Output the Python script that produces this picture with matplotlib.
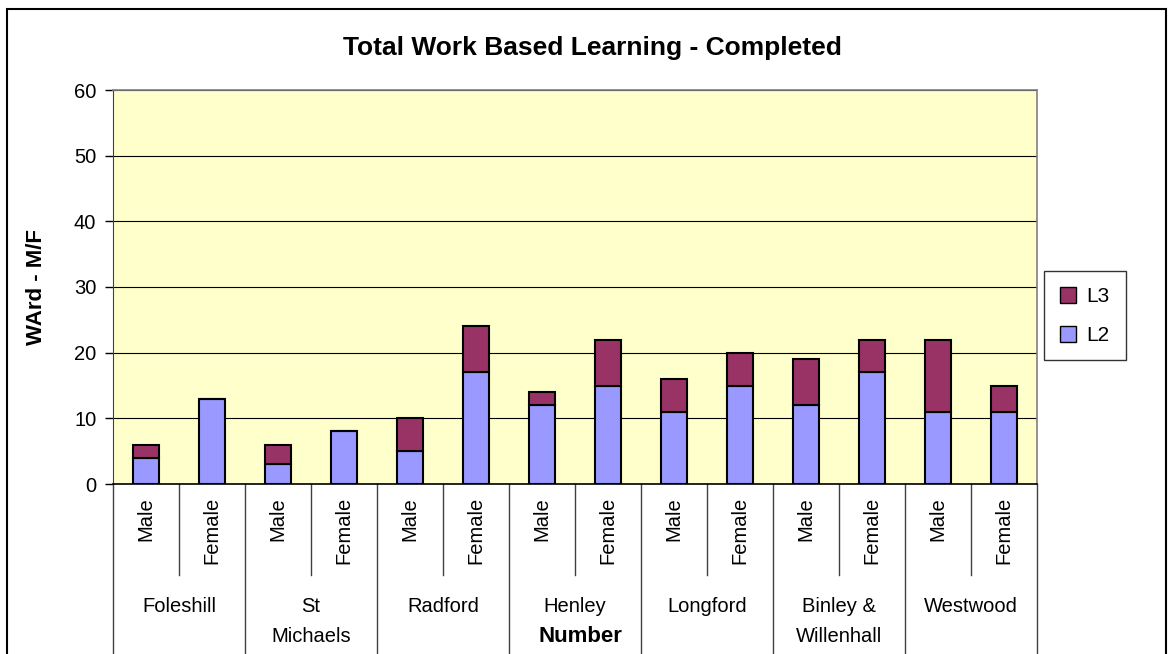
import matplotlib
matplotlib.use("Agg")
import matplotlib.pyplot as plt
from matplotlib.patches import Rectangle, Patch

plt.rcParams['font.family'] = ['Liberation Sans', 'DejaVu Sans']

wards = ["Foleshill", "St\nMichaels", "Radford", "Henley", "Longford", "Binley &\nWillenhall", "Westwood"]
genders = ["Male", "Female"]
l2 = [4, 13, 3, 8, 5, 17, 12, 15, 11, 15, 12, 17, 11, 11]
l3 = [2, 0, 3, 0, 5, 7, 2, 7, 5, 5, 7, 5, 11, 4]
yticks = [0, 10, 20, 30, 40, 50, 60]

W, H = 1173, 654
fig = plt.figure(figsize=(W / 100, H / 100), dpi=100)
fig.patch.set_facecolor('white')

left, right, top, bottom = 113, 1037, 90, 484
ax = fig.add_axes([left / W, 1 - bottom / H, (right - left) / W, (bottom - top) / H])
ax.set_facecolor('#FFFFCC')

n = len(l2)
x = list(range(n))
c2 = '#9999FF'
c3 = '#993366'
ax.bar(x, l2, width=0.4, color=c2, edgecolor='black', linewidth=1.5, zorder=3)
ax.bar(x, l3, width=0.4, bottom=l2, color=c3, edgecolor='black', linewidth=1.5, zorder=3)

ax.set_xlim(-0.5, n - 0.5)
ax.set_ylim(0, 60)
ax.set_yticks(yticks)
ax.set_yticklabels([str(v) for v in yticks], fontsize=14.5)
ax.tick_params(axis='y', length=6, width=1, direction='out', pad=6)
ax.set_xticks([])
ax.yaxis.grid(True, color='black', linewidth=0.8, zorder=1)
ax.set_axisbelow(True)
for s in ['top', 'right']:
    ax.spines[s].set_color('#808080')
    ax.spines[s].set_linewidth(1.2)
ax.spines['left'].set_color('#404040')
ax.spines['bottom'].set_color('black')
ax.spines['bottom'].set_linewidth(1.2)

ph = bottom - top
yb_full = -(H - bottom) / ph
yb_mid = -(575 - bottom) / ph
trans = ax.get_xaxis_transform()
for g in range(len(wards) + 1):
    xv = -0.5 + 2 * g
    ax.plot([xv, xv], [0, yb_full - 0.05], transform=trans, color='#404040', lw=1, clip_on=False)
for g in range(len(wards)):
    xv = 0.5 + 2 * g
    ax.plot([xv, xv], [0, yb_mid], transform=trans, color='#404040', lw=1, clip_on=False)

for i in range(n):
    ax.text(i, -(497 - bottom) / ph, genders[i % 2], transform=trans, rotation=90,
            ha='center', va='top', fontsize=14.5)
for g, w in enumerate(wards):
    ax.text(2 * g + 0.5, -(597 - bottom) / ph, w, transform=trans, ha='center', va='top',
            fontsize=14.5, linespacing=1.7)

fig.text(592 / W, 1 - 48 / H, "Total Work Based Learning - Completed", ha='center', va='center',
         fontsize=19, fontweight='bold')
fig.text(37 / W, 1 - 287 / H, "WArd - M/F", rotation=90, ha='center', va='center',
         fontsize=16, fontweight='bold')
fig.text(580 / W, 1 - 636 / H, "Number", ha='center', va='center', fontsize=16, fontweight='bold')

handles = [Patch(facecolor=c3, edgecolor='black', label='L3'),
           Patch(facecolor=c2, edgecolor='black', label='L2')]
leg = fig.legend(handles=handles, loc='upper left', bbox_to_anchor=(1044 / W, 1 - 271 / H),
                 fontsize=15, frameon=True, fancybox=False, edgecolor='black',
                 handlelength=0.8, handleheight=0.8, handletextpad=0.5, labelspacing=0.95,
                 borderpad=0.75, borderaxespad=0)
leg.get_frame().set_linewidth(1)

fig.patches.append(Rectangle((7 / W, -0.05), (1166 - 7) / W, 1 - 9 / H + 0.05,
                             transform=fig.transFigure, fill=False, edgecolor='black', lw=1.5))

fig.savefig('out.png', dpi=100)
